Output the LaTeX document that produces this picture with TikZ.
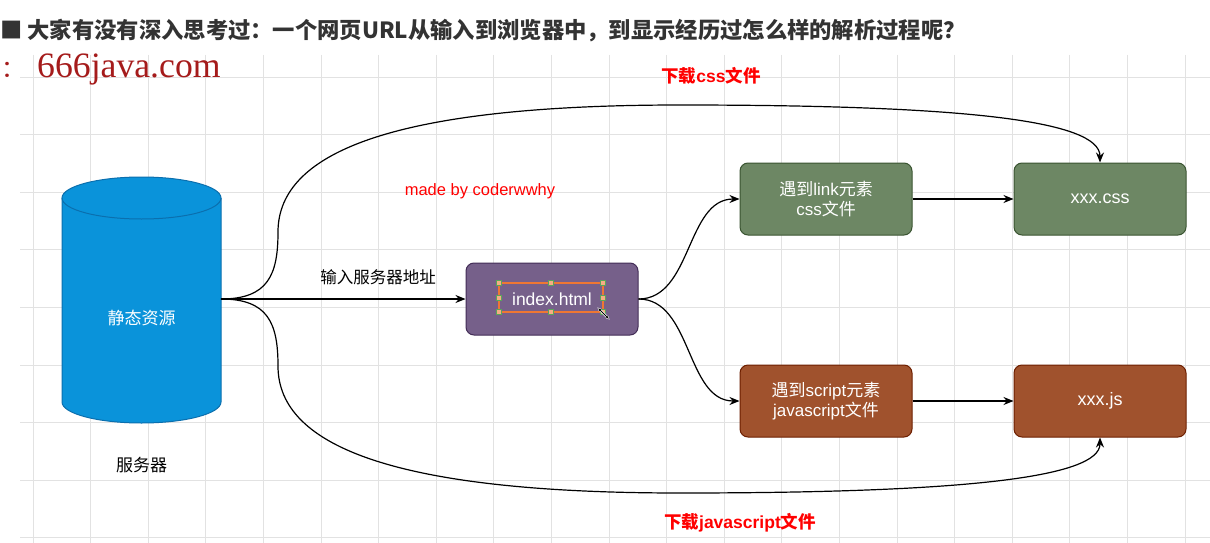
\documentclass[tikz,border=0pt]{standalone}
\usepackage{fontspec}
\setmainfont{Liberation Sans}
\newfontfamily\cjk{Noto Sans CJK SC}
\newfontfamily\serifwm{Liberation Serif}
\usetikzlibrary{arrows.meta}
\definecolor{gridc}{HTML}{E2E2E2}
\definecolor{titlec}{HTML}{333333}
\definecolor{wmred}{HTML}{A51B1B}
\definecolor{cylfill}{HTML}{0A93DA}
\definecolor{cylline}{HTML}{0B6FAE}
\definecolor{purfill}{HTML}{76608A}
\definecolor{purline}{HTML}{432D57}
\definecolor{grnfill}{HTML}{6D8764}
\definecolor{grnline}{HTML}{3A5431}
\definecolor{brnfill}{HTML}{A0522D}
\definecolor{brnline}{HTML}{6D1F00}
\definecolor{selc}{HTML}{EE7733}
\newcommand\C[1]{{\cjk #1}}
\tikzset{
  fbox/.style={draw, rounded corners=8pt, line width=1pt, minimum width=172pt, minimum height=72pt,
    text=white, align=center, font=\fontsize{17}{20}\selectfont},
  conn/.style={line width=1.2pt, -{Stealth[length=10pt,width=8pt]}},
  redlab/.style={text=red, font=\fontsize{17.5}{20}\selectfont\bfseries},
  handle/.style={draw=gray!70!green, fill=selc!60, minimum size=5pt, inner sep=0pt}
}
\begin{document}
\begin{tikzpicture}[x=1pt,y=-1pt]
\useasboundingbox (0,0) rectangle (1210,543);
\fill[white] (0,0) rectangle (1210,543);
% grid
\foreach \i in {0,...,20} \draw[gridc, line width=0.8pt] ({33+57.6*\i},55) -- ({33+57.6*\i},543);
\foreach \j in {0,...,8} \draw[gridc, line width=0.8pt] (20,{77+57.6*\j}) -- (1210,{77+57.6*\j});
% title
\node[anchor=west, inner sep=0pt, text=titlec, font=\cjk\fontsize{22.3}{26}\selectfont\bfseries] (title) at (0,31)
  {■ 大家有没有深入思考过：一个网页URL从输入到浏览器中，到显示经历过怎么样的解析过程呢？};
\node[anchor=west, inner sep=0pt, text=wmred, font=\cjk\fontsize{24}{28}\selectfont] (wmc) at (1,70) {：};
\node[anchor=west, inner sep=0pt, text=wmred, font=\serifwm\fontsize{35.7}{40}\selectfont] (wm) at (37,69) {666java.com};
% cylinder
\fill[cylfill] (62,198) -- (62,402) arc (180:360:79.5pt and 21pt) -- (221,198) arc (0:180:79.5pt and 21pt) -- cycle;
\draw[cylline, line width=1pt] (62,198) -- (62,402) arc (180:360:79.5pt and 21pt) -- (221,198);
\draw[cylline, line width=1pt] (141.5,198) ellipse [x radius=79.5pt, y radius=21pt];
\node[text=white, font=\cjk\fontsize{17}{20}\selectfont] (cyl) at (141.5,318) {静态资源};
\coordinate (cylE) at (221,299);
\node[font=\cjk\fontsize{17}{20}\selectfont] (server) at (141.5,465) {服务器};
% boxes
\node[fbox, fill=purfill, draw=purline, font=\fontsize{17.5}{20}\selectfont] (index) at (552,299) {index.html};
\node[fbox, fill=grnfill, draw=grnline] (link) at (826,199) {\C{遇到}link\C{元素}\\css\C{文件}};
\node[fbox, fill=grnfill, draw=grnline, font=\fontsize{18}{20}\selectfont] (css) at (1100,199) {xxx.css};
\node[fbox, fill=brnfill, draw=brnline] (script) at (826,401) {\C{遇到}script\C{元素}\\javascript\C{文件}};
\node[fbox, fill=brnfill, draw=brnline, font=\fontsize{18}{20}\selectfont] (js) at (1100,401) {xxx.js};
% selection overlay
\draw[selc, line width=1.8pt] (499,283) rectangle (603,312);
\foreach \p in {(499,283),(551,283),(603,283),(499,297.5),(603,297.5),(499,312),(551,312),(603,312)}
  \node[handle] at \p {};
\draw[white, line width=2.4pt, {Latex[length=4pt]}-{Latex[length=4pt]}] (597,307) -- (610,320);
\draw[black, line width=0.8pt, {Latex[length=3pt]}-{Latex[length=3pt]}] (598,308) -- (609,319);
% connectors
\draw[conn] (cylE) -- (index.west);
\node[font=\cjk\fontsize{16.5}{20}\selectfont] (addr) at (378,277) {输入服务器地址};
\draw[conn] (cylE) .. controls (268,299) and (278,275) .. (278,232)
   .. controls (278,150) and (400,105) .. (680,105)
   .. controls (960,105) and (1100,120) .. (css.north);
\draw[conn] (cylE) .. controls (268,299) and (278,323) .. (278,366)
   .. controls (278,448) and (400,493) .. (680,493)
   .. controls (960,493) and (1100,478) .. (js.south);
\draw[conn] (index.east) .. controls (692,299) and (686,199) .. (link.west);
\draw[conn] (index.east) .. controls (692,299) and (686,401) .. (script.west);
\draw[conn] (link.east) -- (css.west);
\draw[conn] (script.east) -- (js.west);
% labels
\node[redlab] (lcss) at (711,76) {\C{下载}css\C{文件}};
\node[text=red, font=\fontsize{16.5}{19}\selectfont] (made) at (480,191) {made by coderwwhy};
\node[redlab] (ljs) at (740,523) {\C{下载}javascript\C{文件}};
\end{tikzpicture}
\end{document}
